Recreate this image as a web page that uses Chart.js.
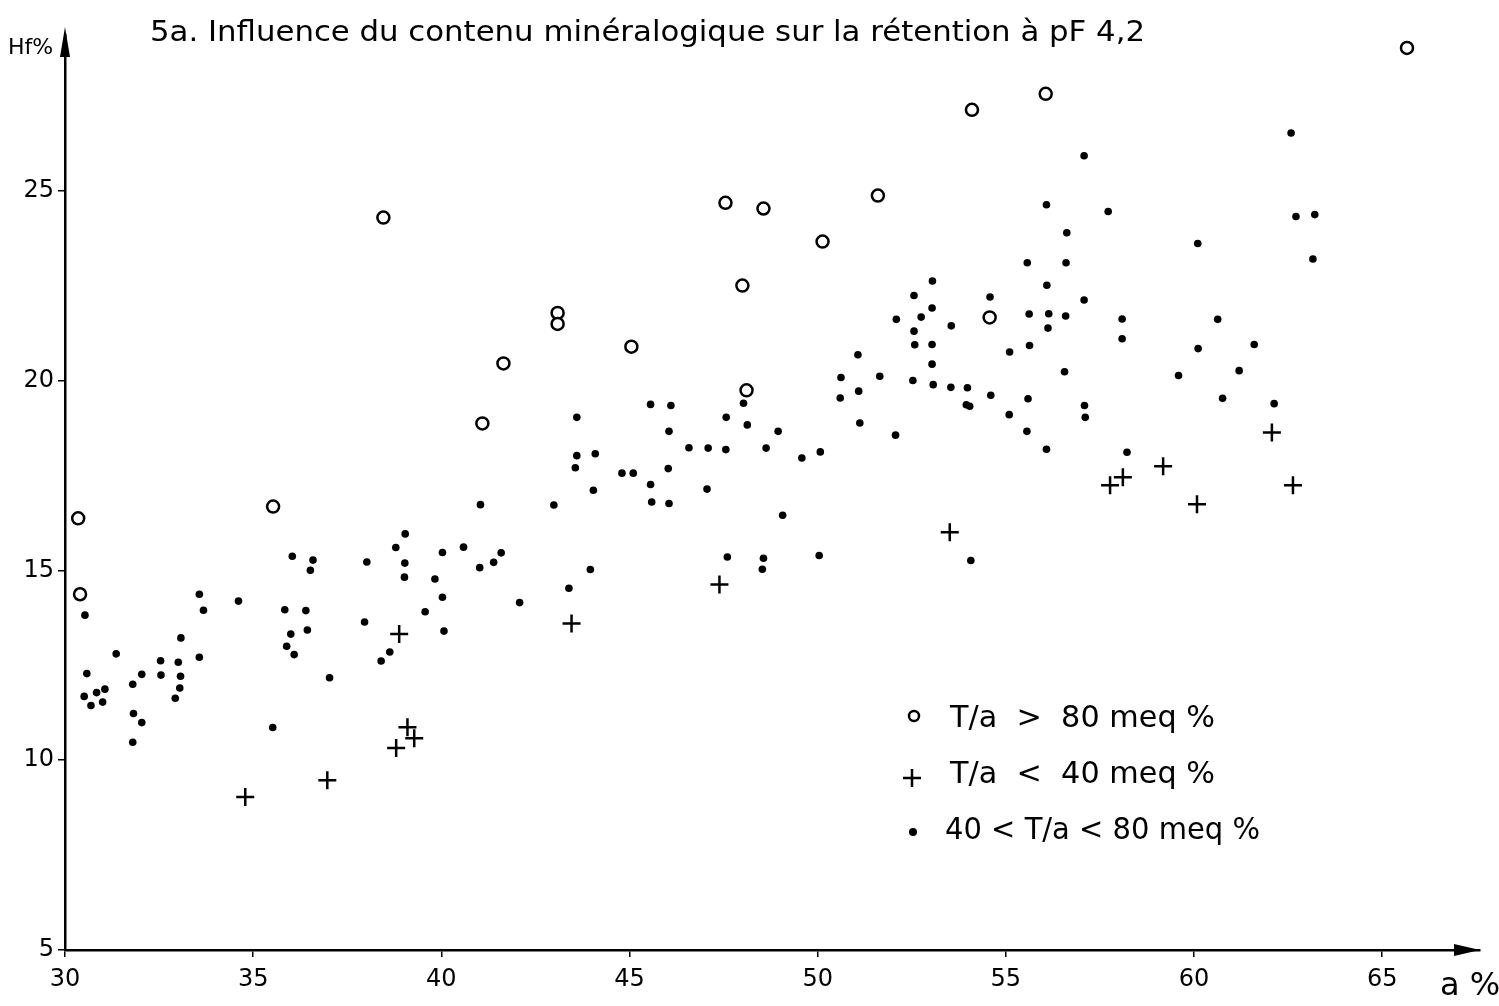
<!DOCTYPE html>
<html>
<head>
  <meta charset="utf-8">
  <script src="https://cdn.jsdelivr.net/npm/chart.js@4.4.0/dist/chart.umd.min.js"></script>
  <style>
    body { margin: 0; padding: 0; background: white; }
    canvas { display: block; }
  </style>
</head>
<body>
  <canvas id="chartCanvas" width="1499" height="1006"></canvas>
  <script>
    // Data: [a %, Hf %]
    const titleText = '5a. Influence du contenu minéralogique sur la rétention à pF 4,2';
    const xTicks = [30, 35, 40, 45, 50, 55, 60, 65];
    const yTicks = [5, 10, 15, 20, 25];

    // T/a > 80 meq %
    const highCec = [
      [30.35, 16.37], [30.4, 14.37], [35.53, 16.68], [38.46, 24.29], [43.09, 21.78],
      [43.09, 21.49], [41.65, 20.45], [41.09, 18.87], [45.05, 20.89], [47.55, 24.68],
      [48.56, 24.53], [48.0, 22.5], [50.13, 23.66], [48.11, 19.74], [51.6, 24.87],
      [54.1, 27.13], [56.06, 27.55], [54.57, 21.66], [65.66, 28.76]
    ];

    // T/a < 40 meq %
    const lowCec = [
      [34.79, 9.03], [36.97, 9.47], [38.8, 10.32], [39.1, 10.87], [39.28, 10.58],
      [38.88, 13.32], [43.46, 13.6], [47.39, 14.63], [53.51, 16.0], [57.77, 17.24],
      [58.11, 17.45], [59.18, 17.74], [60.08, 16.74], [62.07, 18.63], [62.63, 17.24]
    ];

    // 40 < T/a < 80 meq %
    const midCec = [
      [30.53, 13.82], [30.58, 12.28], [30.51, 11.68], [30.69, 11.44], [30.84, 11.78],
      [31.06, 11.87], [31.0, 11.53], [31.36, 12.8], [31.8, 12.0], [32.04, 12.26],
      [31.82, 11.23], [32.04, 10.99], [31.8, 10.47], [32.54, 12.62], [32.55, 12.24],
      [33.01, 12.58], [33.08, 13.22], [33.07, 12.21], [33.05, 11.9], [32.93, 11.63],
      [33.57, 14.37], [33.68, 13.95], [33.57, 12.71], [34.61, 14.19], [35.52, 10.86],
      [36.04, 15.37], [36.59, 15.27], [36.52, 15.0], [35.84, 13.96], [36.4, 13.94],
      [36.0, 13.32], [36.44, 13.43], [35.89, 13.0], [36.09, 12.78], [37.03, 12.17],
      [38.02, 15.22], [37.96, 13.64],
      [41.04, 16.73], [39.04, 15.96], [38.79, 15.6], [39.03, 15.19], [39.02, 14.82],
      [40.03, 15.47], [40.59, 15.61], [41.02, 15.07], [41.39, 15.21], [41.59, 15.46],
      [39.83, 14.77], [40.03, 14.29], [39.57, 13.91], [40.07, 13.4], [38.63, 12.85],
      [38.4, 12.61],
      [45.56, 19.37], [43.6, 19.03], [43.6, 18.02], [44.09, 18.07], [43.56, 17.7],
      [44.8, 17.56], [45.1, 17.56], [45.56, 17.26], [45.59, 16.8], [44.04, 17.11],
      [42.99, 16.72], [42.08, 14.15], [43.39, 14.53], [43.96, 15.02],
      [46.1, 19.34], [46.05, 18.66], [47.57, 19.03], [48.03, 19.4], [48.13, 18.83],
      [48.95, 18.66], [50.6, 19.54], [51.09, 19.72], [51.12, 18.88], [52.07, 18.56],
      [46.58, 18.23], [47.09, 18.22], [47.56, 18.18], [48.63, 18.22], [49.58, 17.96],
      [50.07, 18.12], [46.03, 17.68], [47.06, 17.14], [46.05, 16.76], [49.07, 16.45],
      [47.6, 15.35], [48.56, 15.32], [48.53, 15.03], [50.04, 15.39],
      [55.57, 23.1], [56.6, 23.1], [56.09, 22.51], [57.08, 22.12], [53.05, 22.62],
      [52.56, 22.24], [53.04, 21.91], [52.75, 21.67], [52.09, 21.61], [54.58, 22.2],
      [53.55, 21.44], [52.56, 21.3], [52.58, 20.94], [53.04, 20.95], [53.04, 20.43],
      [55.62, 21.75], [56.14, 21.76], [56.59, 21.7], [56.12, 21.38], [55.63, 20.92],
      [55.1, 20.75], [56.56, 20.23], [51.07, 20.68], [50.62, 20.08], [51.65, 20.11],
      [52.53, 20.0], [53.07, 19.89], [53.54, 19.82], [53.98, 19.81], [54.04, 19.32],
      [53.95, 19.36], [54.6, 19.61], [55.59, 19.52], [55.09, 19.1], [55.56, 18.66],
      [56.08, 18.19], [57.09, 19.34], [57.11, 19.03], [54.07, 15.26],
      [62.58, 26.52], [57.08, 25.92], [56.08, 24.63], [57.72, 24.45], [56.62, 23.89],
      [62.71, 24.32], [63.21, 24.37], [60.1, 23.61], [63.16, 23.2], [58.09, 21.62],
      [58.09, 21.1], [60.63, 21.61], [60.11, 20.84], [61.6, 20.95], [61.2, 20.26],
      [59.59, 20.13], [60.76, 19.53], [62.13, 19.39], [58.22, 18.11]
    ];

    const toPoints = arr => arr.map(p => ({ x: p[0], y: p[1] }));
    const FONT = '"DejaVu Sans", sans-serif';

    // draw text stretched to a given width (the hand lettering is wide)
    function wideText(ctx, text, x, y, width) {
      const w = ctx.measureText(text).width;
      ctx.save();
      ctx.translate(x, y);
      ctx.scale(width / w, 1);
      ctx.fillText(text, 0, 0);
      ctx.restore();
    }

    // Title, axis names, arrow heads and the hand-written key
    const sketchPlugin = {
      id: 'sketch',
      afterDraw(chart) {
        const ctx = chart.ctx;
        const { left, right, top, bottom } = chart.chartArea;
        ctx.save();
        ctx.fillStyle = '#000';
        ctx.strokeStyle = '#000';
        ctx.textBaseline = 'alphabetic';
        ctx.textAlign = 'left';

        // title
        ctx.font = '29px ' + FONT;
        wideText(ctx, titleText, 150, 41, 995);

        // arrow heads
        ctx.beginPath();
        ctx.moveTo(left, top - 8);
        ctx.lineTo(left - 5, top + 22);
        ctx.lineTo(left + 5, top + 22);
        ctx.closePath();
        ctx.fill();
        ctx.beginPath();
        ctx.moveTo(right, bottom);
        ctx.lineTo(right - 26, bottom - 6);
        ctx.lineTo(right - 26, bottom + 6);
        ctx.closePath();
        ctx.fill();

        // axis names
        ctx.font = '22px ' + FONT;
        ctx.fillText('Hf%', 8, 54);
        ctx.font = '32px ' + FONT;
        ctx.fillText('a %', 1440, 995);

        // key
        ctx.lineWidth = 2.5;
        ctx.beginPath();
        ctx.arc(914, 716, 5, 0, Math.PI * 2);
        ctx.stroke();
        ctx.beginPath();
        ctx.moveTo(903, 778); ctx.lineTo(921, 778);
        ctx.moveTo(912, 769); ctx.lineTo(912, 787);
        ctx.stroke();
        ctx.beginPath();
        ctx.arc(913, 832, 4, 0, Math.PI * 2);
        ctx.fill();

        ctx.font = '30px ' + FONT;
        wideText(ctx, 'T/a  >  80 meq %', 950, 727, 265);
        wideText(ctx, 'T/a  <  40 meq %', 950, 783, 265);
        wideText(ctx, '40 < T/a < 80 meq %', 945, 839, 315);
        ctx.restore();
      }
    };

    const keepTicks = values => scale => {
      scale.ticks = values.map(v => ({ value: v }));
    };

    const ctx = document.getElementById('chartCanvas').getContext('2d');
    new Chart(ctx, {
      type: 'scatter',
      data: {
        datasets: [
          {
            label: 'T/a > 80 meq %',
            data: toPoints(highCec),
            pointStyle: 'circle',
            pointRadius: 6,
            borderWidth: 2.5,
            borderColor: '#000',
            backgroundColor: '#fff'
          },
          {
            label: 'T/a < 40 meq %',
            data: toPoints(lowCec),
            pointStyle: 'cross',
            pointRadius: 9,
            borderWidth: 2.5,
            borderColor: '#000',
            backgroundColor: '#000'
          },
          {
            label: '40 < T/a < 80 meq %',
            data: toPoints(midCec),
            pointStyle: 'circle',
            pointRadius: 3.8,
            borderWidth: 0,
            borderColor: '#000',
            backgroundColor: '#000'
          }
        ]
      },
      options: {
        responsive: false,
        animation: false,
        devicePixelRatio: 1,
        layout: { padding: { top: 35, right: 19, left: 0, bottom: 0 } },
        plugins: {
          legend: { display: false },
          tooltip: { enabled: false }
        },
        scales: {
          x: {
            type: 'linear',
            min: 30,
            max: 67.6,
            afterBuildTicks: keepTicks(xTicks),
            afterFit: scale => { scale.height = 56; },
            grid: { drawOnChartArea: false, drawTicks: true, tickLength: 7, color: '#000', lineWidth: 1.5 },
            border: { color: '#000', width: 2.5 },
            ticks: { color: '#000', font: { family: FONT, size: 24 }, padding: 8 }
          },
          y: {
            type: 'linear',
            min: 5,
            max: 29.1,
            afterBuildTicks: keepTicks(yTicks),
            afterFit: scale => { scale.width = 65; },
            grid: { drawOnChartArea: false, drawTicks: true, tickLength: 7, color: '#000', lineWidth: 1.5 },
            border: { color: '#000', width: 2.5 },
            ticks: { color: '#000', font: { family: FONT, size: 24 }, padding: 4 }
          }
        }
      },
      plugins: [sketchPlugin]
    });
  </script>
</body>
</html>
